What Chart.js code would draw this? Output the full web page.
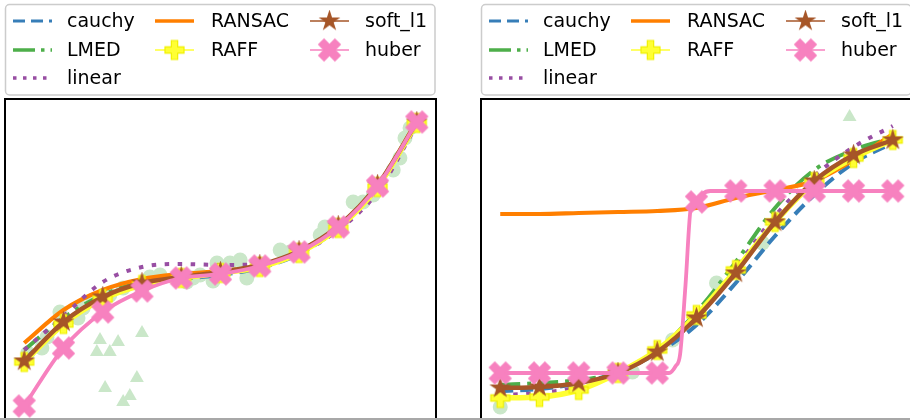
<!DOCTYPE html>
<html>
<head>
<meta charset="utf-8">
<script src="https://cdn.jsdelivr.net/npm/chart.js@4.4.1/dist/chart.umd.min.js"></script>
<style>
  html, body { margin: 0; padding: 0; background: #fff; }
  body { width: 910px; height: 420px; overflow: hidden; position: relative; }
  canvas { position: absolute; top: 0; }
  #left { left: 0; }
  #right { left: 476px; }
  #edge { position: absolute; left: 0; top: 418px; width: 910px; height: 2px; background: #a8a8a8; }
</style>
</head>
<body>
<canvas id="left" width="440" height="430"></canvas>
<canvas id="right" width="440" height="430"></canvas>
<div id="edge"></div>
<script>
// sample positions (the 11 marked points)
var xs = [0, 1, 2, 3, 4, 5, 6, 7, 8, 9, 10];
var seriesNames = ['cauchy', 'LMED', 'linear', 'RANSAC', 'RAFF', 'soft_l1', 'huber'];

// ---- left panel: cubic data ----
var cauchyL  = [7.0, 10.7, 13.1, 14.5, 15.1, 15.5, 16.2, 17.6, 20.2, 24.3, 30.6];
var lmedL    = [8.0, 11.2, 13.5, 14.8, 15.4, 15.8, 16.4, 17.9, 20.4, 24.5, 30.8];
var linearL  = [8.0, 11.4, 14.8, 16.3, 16.6, 16.5, 16.6, 17.7, 20.0, 23.8, 30.5];
var ransacL  = [8.7, 12.0, 14.0, 15.1, 15.6, 15.9, 16.4, 17.8, 20.3, 24.4, 30.8];
var raffL    = [6.8, 10.6, 13.1, 14.5, 15.2, 15.7, 16.3, 17.7, 20.2, 24.3, 30.7];
var softL    = [6.9, 10.8, 13.3, 14.7, 15.3, 15.8, 16.5, 17.9, 20.4, 24.5, 30.8];
var huberLX  = xs;
var huberL   = [2.4, 8.2, 11.8, 13.9, 15.2, 15.6, 16.4, 17.8, 20.3, 24.4, 30.8];

var dotsLX = [0.09, 0.45, 0.58, 0.91, 1.37, 1.50, 1.75, 2.18, 2.52, 3.20, 3.46, 4.14, 4.30, 4.48, 4.81, 4.91,
              5.24, 5.50, 5.67, 5.93, 6.52, 6.77, 6.95, 7.54, 7.66, 8.38, 8.63, 8.89, 9.40, 9.57, 9.70, 9.83];
var dotsLY = [7.7, 8.2, 9.3, 11.8, 11.2, 12.2, 13.0, 13.5, 14.2, 15.3, 15.5, 14.8, 15.2, 15.5, 14.9, 16.7,
              16.7, 17.0, 15.2, 16.2, 18.0, 17.8, 17.5, 19.5, 20.3, 22.8, 22.8, 23.5, 26.0, 27.2, 29.2, 30.2];
var outLX = [1.93, 1.85, 2.18, 2.39, 3.00, 2.87, 2.06, 2.52, 2.69];
var outLY = [9.0, 7.8, 7.8, 8.8, 9.7, 5.2, 4.2, 2.8, 3.4];

// ---- right panel: sigmoid data ----
var cauchyR  = [3.9, 4.1, 4.7, 5.8, 7.7, 10.5, 14.7, 19.4, 23.5, 26.7, 28.7];
var lmedR    = [4.5, 4.7, 5.0, 5.8, 8.0, 11.8, 16.8, 22.2, 26.0, 28.0, 29.2];
var linearR  = [3.5, 3.7, 4.3, 5.7, 7.8, 11.2, 16.2, 21.4, 25.4, 28.3, 30.4];
var ransacR  = [21.6, 21.6, 21.7, 21.8, 21.9, 22.2, 23.2, 24.0, 24.9, 27.0, 29.6];
var raffR    = [3.2, 3.3, 4.0, 5.7, 8.0, 11.5, 16.0, 20.8, 24.8, 27.2, 29.0];
var softR    = [4.2, 4.3, 4.7, 5.7, 7.8, 11.2, 15.7, 20.8, 24.9, 27.5, 29.0];
var huberRX  = [0, 1, 2, 3, 4, 4.3, 4.47, 4.58, 4.72, 4.86, 5, 5.15, 5.35, 6, 7, 8, 9, 10];
var huberR   = [5.7, 5.7, 5.7, 5.7, 5.7, 5.7, 6.4, 7.5, 14.5, 22.3, 22.8, 23.6, 23.9, 23.9, 23.9, 23.9, 23.9, 23.9];

var dotsRX = [0, 3.37, 4.39, 5.51, 6.68];
var dotsRY = [2.3, 5.8, 9.0, 14.7, 18.7];
var outRX = [8.9];
var outRY = [31.3];

function pts(x, y) {
  return y.map(function(v, i) { return {x: x[i], y: v}; });
}

function makeMarker(kind, size, fill, edge) {
  var c = document.createElement('canvas');
  var s = Math.ceil(size + 4);
  c.width = s; c.height = s;
  var g = c.getContext('2d');
  g.translate(s / 2, s / 2);
  g.beginPath();
  if (kind === 'star') {
    var R = size / 2, r = R * 0.382;
    for (var i = 0; i < 10; i++) {
      var a = -Math.PI / 2 + i * Math.PI / 5;
      var rr = i % 2 ? r : R;
      g.lineTo(Math.cos(a) * rr, Math.sin(a) * rr);
    }
  } else {
    var u = size / 6;
    var p = [[-1,-3],[1,-3],[1,-1],[3,-1],[3,1],[1,1],[1,3],[-1,3],[-1,1],[-3,1],[-3,-1],[-1,-1]];
    if (kind === 'x') g.rotate(Math.PI / 4);
    p.forEach(function(q) { g.lineTo(q[0] * u, q[1] * u); });
  }
  g.closePath();
  g.fillStyle = fill;
  g.fill();
  g.lineWidth = 1.2;
  g.strokeStyle = edge;
  g.stroke();
  return c;
}

var starImg = makeMarker('star', 19, '#a65628', '#a65628');
var plusImg = makeMarker('plus', 19, '#ffff33', '#f0f000');
var xImg = makeMarker('x', 23, '#f781bf', '#f781bf');

// legend handle style, then style used inside the plot
var styles = {
  cauchy: {color: '#377eb8', width: 3, dash: [12, 6], plotWidth: 4, plotDash: [13, 7]},
  LMED:   {color: '#4daf4a', width: 3.5, dash: [22, 6, 3.5, 6], plotWidth: 4, plotDash: [20, 7, 4, 7]},
  linear: {color: '#984ea3', width: 3.5, dash: [3.5, 6.5], plotWidth: 4, plotDash: [4.5, 8.5]},
  RANSAC: {color: '#ff7f00', width: 3.5, dash: [], plotWidth: 4.2, plotDash: []},
  RAFF:   {color: '#ffff33', width: 1.5, dash: [], plotWidth: 5.5, plotDash: [], marker: plusImg},
  soft_l1:{color: '#a65628', width: 1.5, dash: [], plotWidth: 4.5, plotDash: [], marker: starImg},
  huber:  {color: '#f781bf', width: 1.5, dash: [], plotWidth: 3.8, plotDash: [], marker: xImg}
};

// legend placement: column / row per entry
var legendPos = {cauchy: [0, 0], LMED: [0, 1], linear: [0, 2], RANSAC: [1, 0], RAFF: [1, 1], soft_l1: [2, 0], huber: [2, 1]};
var colHandle = [13, 155, 310];
var colText = [67, 211, 365];
var rowY = [21, 50, 78];

var legendBox = {
  id: 'legendBox',
  afterDraw: function(chart) {
    var ctx = chart.ctx;
    ctx.save();
    // rounded frame
    var x0 = 5.5, y0 = 4.5, w = 429.5, h = 90.5, r = 4;
    ctx.beginPath();
    ctx.moveTo(x0 + r, y0);
    ctx.arcTo(x0 + w, y0, x0 + w, y0 + h, r);
    ctx.arcTo(x0 + w, y0 + h, x0, y0 + h, r);
    ctx.arcTo(x0, y0 + h, x0, y0, r);
    ctx.arcTo(x0, y0, x0 + w, y0, r);
    ctx.closePath();
    ctx.fillStyle = '#fff';
    ctx.fill();
    ctx.strokeStyle = '#cccccc';
    ctx.lineWidth = 1.5;
    ctx.stroke();

    seriesNames.forEach(function(name) {
      var st = styles[name];
      var pos = legendPos[name];
      var hx = colHandle[pos[0]], y = rowY[pos[1]];
      ctx.beginPath();
      ctx.setLineDash(st.dash);
      ctx.lineCap = 'butt';
      ctx.strokeStyle = st.color;
      ctx.lineWidth = st.width;
      ctx.moveTo(hx, y);
      ctx.lineTo(hx + 39, y);
      ctx.stroke();
      ctx.setLineDash([]);
      if (st.marker) {
        ctx.drawImage(st.marker, hx + 19.5 - st.marker.width / 2, y - st.marker.height / 2);
      }
      ctx.fillStyle = '#000';
      ctx.font = '19px "DejaVu Sans"';
      ctx.textBaseline = 'middle';
      ctx.fillText(name, colText[pos[0]], y + 1);
    });
    ctx.restore();
  }
};

var frame = {
  id: 'frame',
  afterDatasetsDraw: function(chart) {
    var a = chart.chartArea, ctx = chart.ctx;
    ctx.save();
    ctx.strokeStyle = '#000';
    ctx.lineWidth = 2;
    ctx.strokeRect(a.left, a.top, a.right - a.left, a.bottom - a.top);
    ctx.restore();
  }
};

function markerAt(c) {
  return (c.raw && Number.isInteger(c.raw.x)) ? 10 : 0;
}

function lineSet(name, x, y, order) {
  var st = styles[name];
  return {
    label: name,
    data: pts(x, y),
    borderColor: st.color,
    backgroundColor: st.color,
    borderWidth: st.plotWidth,
    borderDash: st.plotDash,
    borderJoinStyle: 'round',
    cubicInterpolationMode: 'monotone',
    pointStyle: st.marker || 'circle',
    pointRadius: st.marker ? markerAt : 0,
    order: order
  };
}

function dotSet(x, y, style, radius) {
  return {
    label: style,
    data: pts(x, y),
    showLine: false,
    pointStyle: style,
    pointRadius: radius,
    pointBackgroundColor: 'rgb(202,231,201)',
    pointBorderWidth: 0,
    borderColor: 'rgba(0,0,0,0)',
    order: 20
  };
}

function drawPanel(id, d) {
  new Chart(document.getElementById(id), {
    type: 'line',
    data: {
      datasets: [
        lineSet('huber', d.huberX, d.huber, 0),
        lineSet('soft_l1', xs, d.soft, 1),
        lineSet('RAFF', xs, d.raff, 2),
        lineSet('linear', xs, d.linear, 3),
        lineSet('RANSAC', xs, d.ransac, 4),
        lineSet('LMED', xs, d.lmed, 5),
        lineSet('cauchy', xs, d.cauchy, 6),
        dotSet(d.dotsX, d.dotsY, 'circle', 7.5),
        dotSet(d.outX, d.outY, 'triangle', 8)
      ]
    },
    options: {
      responsive: false,
      animation: false,
      events: [],
      layout: {autoPadding: false, padding: {top: 99, left: 5, right: 4, bottom: 0}},
      plugins: {legend: {display: false}, tooltip: {enabled: false}},
      scales: {
        x: {type: 'linear', display: false, min: -0.49, max: 10.49},
        y: {display: false, min: 0, max: 33.1}
      }
    },
    plugins: [frame, legendBox]
  });
}

drawPanel('left', {
  cauchy: cauchyL, lmed: lmedL, linear: linearL, ransac: ransacL, raff: raffL, soft: softL,
  huberX: huberLX, huber: huberL, dotsX: dotsLX, dotsY: dotsLY, outX: outLX, outY: outLY
});
drawPanel('right', {
  cauchy: cauchyR, lmed: lmedR, linear: linearR, ransac: ransacR, raff: raffR, soft: softR,
  huberX: huberRX, huber: huberR, dotsX: dotsRX, dotsY: dotsRY, outX: outRX, outY: outRY
});
</script>
</body>
</html>
